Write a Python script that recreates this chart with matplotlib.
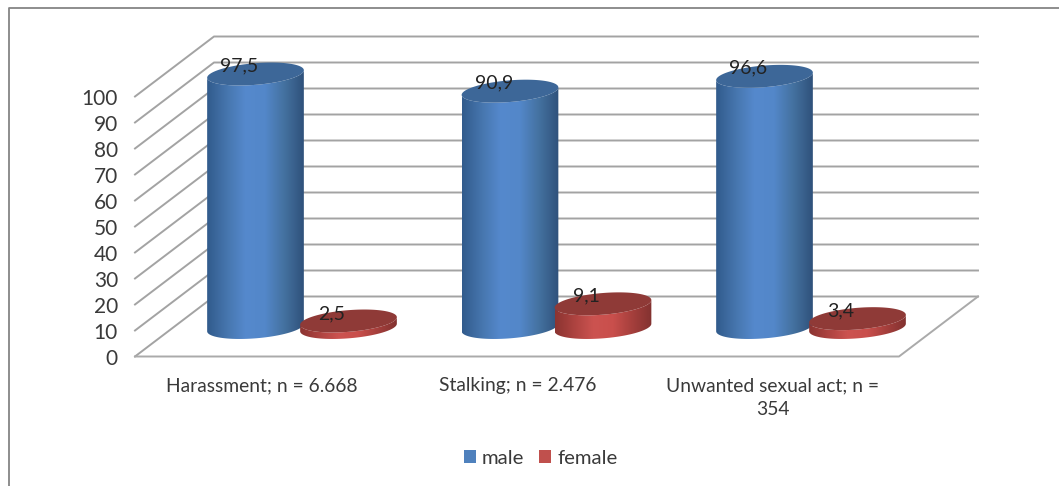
import numpy as np
import matplotlib
matplotlib.use('Agg')
import matplotlib.pyplot as plt
from matplotlib.colors import LinearSegmentedColormap
from matplotlib.lines import Line2D
from matplotlib.patches import Patch, Polygon

plt.rcParams['font.family'] = ['Lato', 'DejaVu Sans']

categories = ['Harassment; n = 6.668', 'Stalking; n = 2.476', 'Unwanted sexual act; n =\n354']
male = [97.5, 90.9, 96.6]
female = [2.5, 9.1, 3.4]
value_labels_male = ['97,5', '90,9', '96,6']
value_labels_female = ['2,5', '9,1', '3,4']
y_ticks = [0, 10, 20, 30, 40, 50, 60, 70, 80, 90, 100]

TEXT = '#3a3a3a'
GRID = '#a3a3a3'

# the 3d box, in pixels of the picture
FRONT_L, FRONT_R = 135, 899
FRONT_0 = 356.5
DEPTH_X, DEPTH_Y = 79, -60
PX_PER_UNIT = 2.6

# cylinders
BASE_Y = 327.5
FIRST_X = 255.5
GROUP_STEP = 254.5
PAIR_STEP = 93
RX, RY = 48.5, 10.8
TILT = np.radians(-4.7)


def front_y(v):
    return FRONT_0 - v * PX_PER_UNIT


def ellipse_points(cx, cy, t):
    x = cx + RX * np.cos(t) * np.cos(TILT) - RY * np.sin(t) * np.sin(TILT)
    y = cy + RX * np.cos(t) * np.sin(TILT) + RY * np.sin(t) * np.cos(TILT)
    return np.column_stack([x, y])


def draw_cylinder(ax, cx, value, cmap, top_color, z):
    top = BASE_Y - value * PX_PER_UNIT
    t0 = np.arctan2(-RY * np.sin(TILT), RX * np.cos(TILT))
    t = np.linspace(t0, t0 + np.pi, 80)
    body = np.vstack([ellipse_points(cx, top, t), ellipse_points(cx, BASE_Y, t[::-1])])
    patch = Polygon(body, closed=True, facecolor='none', edgecolor='none', zorder=z)
    ax.add_patch(patch)
    grad = np.linspace(0, 1, 256).reshape(1, -1)
    im = ax.imshow(grad, cmap=cmap, extent=(cx - RX, cx + RX, BASE_Y + 16, top - 16),
                   aspect='auto', zorder=z, interpolation='bilinear')
    im.set_clip_path(patch)
    cap = ellipse_points(cx, top, np.linspace(0, 2 * np.pi, 160))
    ax.add_patch(Polygon(cap, closed=True, facecolor=top_color, edgecolor='none', zorder=z + 0.1))


fig = plt.figure(figsize=(10.59, 4.86), dpi=100)
ax = fig.add_axes([0, 0, 1, 1])
ax.set_axis_off()

# outer frame, only top and left show in the picture
ax.add_line(Line2D([9, 9, 1059], [486, 8, 8], color='#858585', lw=1.3, zorder=1))

# gridlines on the back wall and side wall
for v in y_ticks:
    y = front_y(v)
    ax.plot([FRONT_L, FRONT_L + DEPTH_X, FRONT_R + DEPTH_X],
            [y, y + DEPTH_Y, y + DEPTH_Y], color=GRID, lw=1.4, zorder=2)
    ax.text(118, y + 0.5, str(v), ha='right', va='center_baseline', fontsize=15, color=TEXT)

# floor
ax.plot([FRONT_L, FRONT_R, FRONT_R + DEPTH_X],
        [FRONT_0, FRONT_0, FRONT_0 + DEPTH_Y], color='#aaaaaa', lw=1.4, zorder=2)

blue_cmap = LinearSegmentedColormap.from_list(
    'blue', ['#315b8c', '#4675ad', '#5589cd', '#5387c9', '#44719f', '#2f517b'])
red_cmap = LinearSegmentedColormap.from_list(
    'red', ['#8b3431', '#ad4340', '#cc5350', '#c94f4c', '#a53f3c', '#823230'])

for i in range(len(categories)):
    cx_m = FIRST_X + GROUP_STEP * i
    cx_f = cx_m + PAIR_STEP
    draw_cylinder(ax, cx_m, male[i], blue_cmap, '#3d6798', 3 + i)
    draw_cylinder(ax, cx_f, female[i], red_cmap, '#8f3a37', 3.5 + i)
    ax.text(cx_m - 16, BASE_Y - male[i] * PX_PER_UNIT - 10, value_labels_male[i],
            ha='center', va='center_baseline', fontsize=14, color='#222222', zorder=10)
    ax.text(cx_f - 16.5, BASE_Y - female[i] * PX_PER_UNIT - 9, value_labels_female[i],
            ha='center', va='center_baseline', fontsize=14, color='#222222', zorder=10)
    ax.text(262 + 255.5 * i, 377, categories[i], ha='center', va='top', fontsize=13.9,
            color=TEXT, linespacing=1.52)

handles = [Patch(facecolor='#4f81bd', label='male'), Patch(facecolor='#c0504d', label='female')]
ax.legend(handles=handles, ncol=2, loc='center', bbox_to_anchor=(540.5, 458),
          bbox_transform=ax.transData, frameon=False, fontsize=14.6,
          labelcolor=TEXT, handlelength=0.6, handleheight=0.6,
          handletextpad=0.28, columnspacing=0.75, borderpad=0)

ax.set_xlim(0, 1059)
ax.set_ylim(486, 0)
fig.savefig('out.png', dpi=100, facecolor='white')
